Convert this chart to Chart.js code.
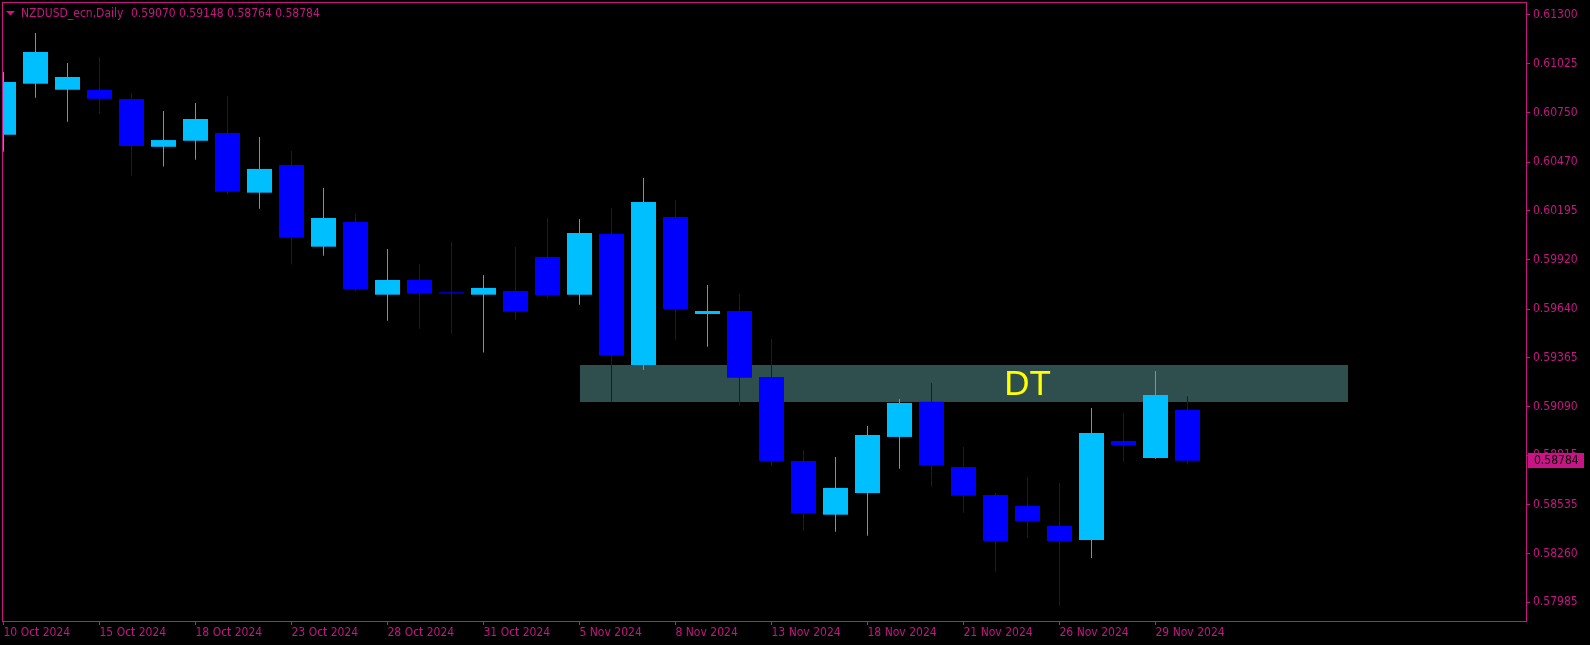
<!DOCTYPE html>
<html>
<head>
<meta charset="utf-8">
<title>NZDUSD_ecn,Daily</title>
<script src="https://cdn.jsdelivr.net/npm/chart.js@4.4.1/dist/chart.umd.min.js"></script>
<style>
  html, body { margin: 0; padding: 0; background: #000; }
  canvas { display: block; }
</style>
</head>
<body>
<canvas id="chart" width="1590" height="645"></canvas>
<script>
const symbol = 'NZDUSD_ecn,Daily';

const dates = [
    '10 Oct 2024', '11 Oct 2024', '14 Oct 2024', '15 Oct 2024', '16 Oct 2024', '17 Oct 2024',
    '18 Oct 2024', '21 Oct 2024', '22 Oct 2024', '23 Oct 2024', '24 Oct 2024', '25 Oct 2024',
    '28 Oct 2024', '29 Oct 2024', '30 Oct 2024', '31 Oct 2024', '1 Nov 2024', '4 Nov 2024',
    '5 Nov 2024', '6 Nov 2024', '7 Nov 2024', '8 Nov 2024', '11 Nov 2024', '12 Nov 2024',
    '13 Nov 2024', '14 Nov 2024', '15 Nov 2024', '18 Nov 2024', '19 Nov 2024', '20 Nov 2024',
    '21 Nov 2024', '22 Nov 2024', '25 Nov 2024', '26 Nov 2024', '27 Nov 2024', '28 Nov 2024',
    '29 Nov 2024', '2 Dec 2024',
];

const opens = [
    0.60624, 0.60912, 0.60878, 0.60877, 0.60826, 0.60556, 0.60590, 0.60634, 0.60297, 0.60453,
    0.59992, 0.60131, 0.59721, 0.59804, 0.59729, 0.59721, 0.59742, 0.59934, 0.59721, 0.60064,
    0.59324, 0.60160, 0.59612, 0.59629, 0.59256, 0.58782, 0.58479, 0.58601, 0.58918, 0.59117,
    0.58748, 0.58590, 0.58528, 0.58415, 0.58336, 0.58895, 0.58799, 0.59070,
];
const highs = [
    0.60978, 0.61198, 0.61029, 0.61063, 0.60860, 0.60758, 0.60803, 0.60843, 0.60611, 0.60532,
    0.60323, 0.60177, 0.59979, 0.59894, 0.60018, 0.59832, 0.59990, 0.60154, 0.60148, 0.60210,
    0.60380, 0.60256, 0.59776, 0.59725, 0.59471, 0.58844, 0.58805, 0.58980, 0.59132, 0.59222,
    0.58861, 0.58601, 0.58692, 0.58658, 0.59081, 0.59053, 0.59290, 0.59148,
];
const lows = [
    0.60528, 0.60833, 0.60698, 0.60739, 0.60393, 0.60444, 0.60483, 0.60286, 0.60206, 0.59893,
    0.59941, 0.59738, 0.59574, 0.59529, 0.59501, 0.59394, 0.59580, 0.59704, 0.59664, 0.59117,
    0.59296, 0.59467, 0.59427, 0.59094, 0.58756, 0.58389, 0.58383, 0.58360, 0.58739, 0.58637,
    0.58490, 0.58157, 0.58349, 0.57965, 0.58234, 0.58778, 0.58795, 0.58764,
];
const closes = [
    0.60922, 0.61091, 0.60950, 0.60827, 0.60560, 0.60594, 0.60713, 0.60302, 0.60431, 0.60043,
    0.60154, 0.59753, 0.59804, 0.59727, 0.59729, 0.59759, 0.59625, 0.59719, 0.60069, 0.59377,
    0.60244, 0.59640, 0.59629, 0.59252, 0.58782, 0.58485, 0.58630, 0.58929, 0.59110, 0.58756,
    0.58586, 0.58330, 0.58443, 0.58330, 0.58940, 0.58872, 0.59155, 0.58784,
];

const priceTicks = [
    0.61300, 0.61025, 0.60750, 0.60470, 0.60195, 0.59920, 0.59640,
    0.59365, 0.59090, 0.58815, 0.58535, 0.58260, 0.57985,
];
const dateTickStep = 3;

// "DT" box drawn on the chart
const zoneLabel = 'DT';
const zoneFrom = 18;
const zoneTo = 42;
const zoneHigh = 0.59324;
const zoneLow = 0.59117;

const PINK = '#C71585';
const BULL = '#00BFFF';
const BEAR = '#0000FF';
const FONT = "'DejaVu Sans Condensed', 'DejaVu Sans', sans-serif";

const last = closes.length - 1;
const candleColors = closes.map((c, i) => c > opens[i] ? BULL : BEAR);

const chromePlugin = {
    id: 'chrome',
    beforeDatasetsDraw(chart) {
        const { ctx, scales: { x, y } } = chart;
        const x0 = Math.round(x.getPixelForValue(zoneFrom));
        const x1 = Math.round(x.getPixelForValue(zoneTo));
        const y0 = Math.round(y.getPixelForValue(zoneHigh));
        const y1 = Math.round(y.getPixelForValue(zoneLow));
        ctx.save();
        ctx.fillStyle = '#2F4F4F';
        ctx.fillRect(x0, y0, x1 - x0, y1 - y0);
        ctx.fillStyle = '#FFFF00';
        ctx.font = "35px 'Liberation Sans', Arial, sans-serif";
        ctx.textAlign = 'left';
        ctx.textBaseline = 'alphabetic';
        ctx.fillText(zoneLabel, x.getPixelForValue(31.27), y1 - 7);
        ctx.restore();
    },
    afterDraw(chart) {
        const { ctx, chartArea: a, scales: { y } } = chart;
        ctx.save();
        // frame
        ctx.strokeStyle = PINK;
        ctx.lineWidth = 1;
        ctx.strokeRect(a.left + 0.5, a.top + 0.5, a.right - a.left, a.bottom - a.top);

        // header
        ctx.fillStyle = PINK;
        ctx.beginPath();
        ctx.moveTo(6, 11);
        ctx.lineTo(15, 11);
        ctx.lineTo(10.5, 15.5);
        ctx.closePath();
        ctx.fill();
        ctx.font = `12px ${FONT}`;
        ctx.textBaseline = 'alphabetic';
        ctx.fillText(symbol, 21, 17);
        const ohlc = [opens[last], highs[last], lows[last], closes[last]].map(v => v.toFixed(5)).join(' ');
        ctx.fillText(ohlc, 131, 17);

        // last price label
        const py = Math.round(y.getPixelForValue(closes[last]));
        ctx.fillRect(a.right + 2, py - 8, 56, 15);
        ctx.fillStyle = '#000';
        ctx.textBaseline = 'middle';
        ctx.fillText(closes[last].toFixed(5), a.right + 8, py);
        ctx.restore();
    }
};

const tickFont = { family: FONT, size: 12 };

new Chart(document.getElementById('chart').getContext('2d'), {
    type: 'bar',
    data: {
        datasets: [
            {
                label: 'body',
                data: opens.map((o, i) => ({ x: i, y: [o, closes[i]] })),
                backgroundColor: candleColors,
                barThickness: 25,
                minBarLength: 1,
            },
            {
                label: 'wick',
                data: lows.map((l, i) => ({ x: i, y: [l, highs[i]] })),
                backgroundColor: candleColors,
                barThickness: 1,
            },
        ]
    },
    options: {
        responsive: false,
        animation: false,
        events: [],
        layout: { padding: { left: 2, top: 2, right: 0, bottom: 0 } },
        datasets: {
            bar: { grouped: false, clip: 0, inflateAmount: 0, borderWidth: 0 }
        },
        plugins: {
            legend: { display: false },
            tooltip: { enabled: false },
        },
        scales: {
            x: {
                type: 'linear',
                min: -1.5 / 32,
                max: -1.5 / 32 + 1524 / 32,
                offset: false,
                grid: { offset: false, drawOnChartArea: false, color: PINK, tickLength: 4 },
                border: { display: false },
                afterBuildTicks: scale => {
                    scale.ticks = dates.map((d, i) => i)
                        .filter(i => i % dateTickStep === 0)
                        .map(i => ({ value: i }));
                },
                afterFit: scale => {
                    scale.height = 24;
                    scale.paddingLeft = 0;
                    scale.paddingRight = 0;
                },
                ticks: {
                    callback: v => dates[v],
                    align: 'start',
                    autoSkip: false,
                    maxRotation: 0,
                    padding: 1,
                    color: PINK,
                    font: tickFont,
                },
            },
            y: {
                position: 'right',
                min: 0.613 - 606 / 17713,
                max: 0.613 + 13 / 17713,
                beginAtZero: false,
                grid: { drawOnChartArea: false, color: PINK, tickLength: 4 },
                border: { display: false },
                afterBuildTicks: scale => {
                    scale.ticks = priceTicks.slice().reverse().map(v => ({ value: v }));
                },
                afterFit: scale => {
                    scale.width = 64;
                    scale.paddingTop = 0;
                    scale.paddingBottom = 0;
                },
                ticks: {
                    callback: v => v.toFixed(5),
                    autoSkip: false,
                    padding: 3,
                    color: PINK,
                    font: tickFont,
                },
            },
        },
    },
    plugins: [chromePlugin],
});
</script>
</body>
</html>
